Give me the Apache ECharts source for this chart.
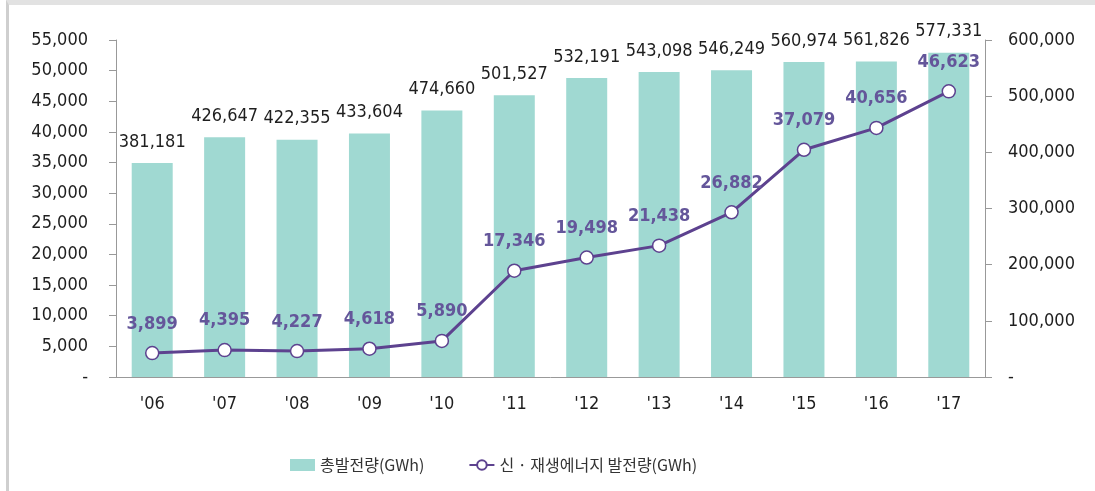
<!DOCTYPE html>
<html>
<head>
<meta charset="utf-8">
<script src="https://cdn.jsdelivr.net/npm/echarts@6/dist/echarts.min.js"></script>
<style>
html,body{margin:0;padding:0;background:#fff;}
#chart{width:1095px;height:491px;}
#frame{position:absolute;left:6px;top:0;width:1089px;height:486px;border-top:5px solid #e2e2e2;border-left:3px solid #cfcfcf;border-bottom:3px solid #e6e6e6;pointer-events:none;box-sizing:content-box;}
</style>
</head>
<body>
<div id="chart"></div>
<div id="frame"></div>
<script>
const categories = ["'06","'07","'08","'09","'10","'11","'12","'13","'14","'15","'16","'17"];
const totalGen = [381181, 426647, 422355, 433604, 474660, 501527, 532191, 543098, 546249, 560974, 561826, 577331];
const renewGen = [3899, 4395, 4227, 4618, 5890, 17346, 19498, 21438, 26882, 37079, 40656, 46623];
const seriesNames = ['총발전량(GWh)', '신 · 재생에너지 발전량(GWh)'];

const numFont = '"DejaVu Sans Condensed", "DejaVu Sans", Roboto, sans-serif';
const fmt = v => v === 0 ? '-' : v.toLocaleString('en-US');

const chart = echarts.init(document.getElementById('chart'), null, {renderer: 'canvas'});
chart.setOption({
  animation: false,
  grid: {left: 116, right: 110, top: 40, bottom: 114},
  legend: {
    left: 285, top: 452,
    itemWidth: 25, itemHeight: 12, itemGap: 44,
    textStyle: {fontFamily: '"Noto Sans CJK KR", sans-serif', fontSize: 16, color: '#333'},
    data: [
      {name: seriesNames[0], icon: 'rect'},
      {name: seriesNames[1]}
    ]
  },
  xAxis: {
    type: 'category',
    data: categories,
    axisLine: {lineStyle: {color: '#999', width: 1}},
    axisTick: {alignWithLabel: true, length: 8, lineStyle: {color: '#999'}},
    axisLabel: {margin: 18, fontFamily: numFont, fontSize: 18, color: '#1e1e1e', fontWeight: 500}
  },
  yAxis: [
    {
      type: 'value', min: 0, max: 55000, interval: 5000, position: 'left',
      axisLine: {show: true, lineStyle: {color: '#999'}},
      axisTick: {show: true, length: 7, lineStyle: {color: '#999'}},
      splitLine: {show: false},
      axisLabel: {margin: 28, formatter: fmt, fontFamily: numFont, fontSize: 18, color: '#1e1e1e', fontWeight: 500}
    },
    {
      type: 'value', min: 0, max: 600000, interval: 100000, position: 'right',
      axisLine: {show: true, lineStyle: {color: '#999'}},
      axisTick: {show: true, length: 7, lineStyle: {color: '#999'}},
      splitLine: {show: false},
      axisLabel: {margin: 23, formatter: fmt, fontFamily: numFont, fontSize: 18, color: '#1e1e1e', fontWeight: 500}
    }
  ],
  series: [
    {
      name: seriesNames[0], type: 'bar', yAxisIndex: 1,
      data: totalGen, barWidth: 41,
      itemStyle: {color: '#a0d9d2'},
      label: {show: true, position: 'top', distance: 12, formatter: p => fmt(p.value),
        fontFamily: numFont, fontSize: 18, color: '#1e1e1e', fontWeight: 500}
    },
    {
      name: seriesNames[1], type: 'line', yAxisIndex: 0,
      data: renewGen, z: 5,
      symbol: 'circle', symbolSize: 13,
      lineStyle: {color: '#5d428f', width: 3},
      itemStyle: {color: '#fff', borderColor: '#5d428f', borderWidth: 1.5},
      label: {show: true, position: 'top', distance: 13, formatter: p => fmt(p.value),
        fontFamily: numFont, fontSize: 18, color: '#64569a', fontWeight: 'bold'}
    }
  ]
});
</script>
</body>
</html>
